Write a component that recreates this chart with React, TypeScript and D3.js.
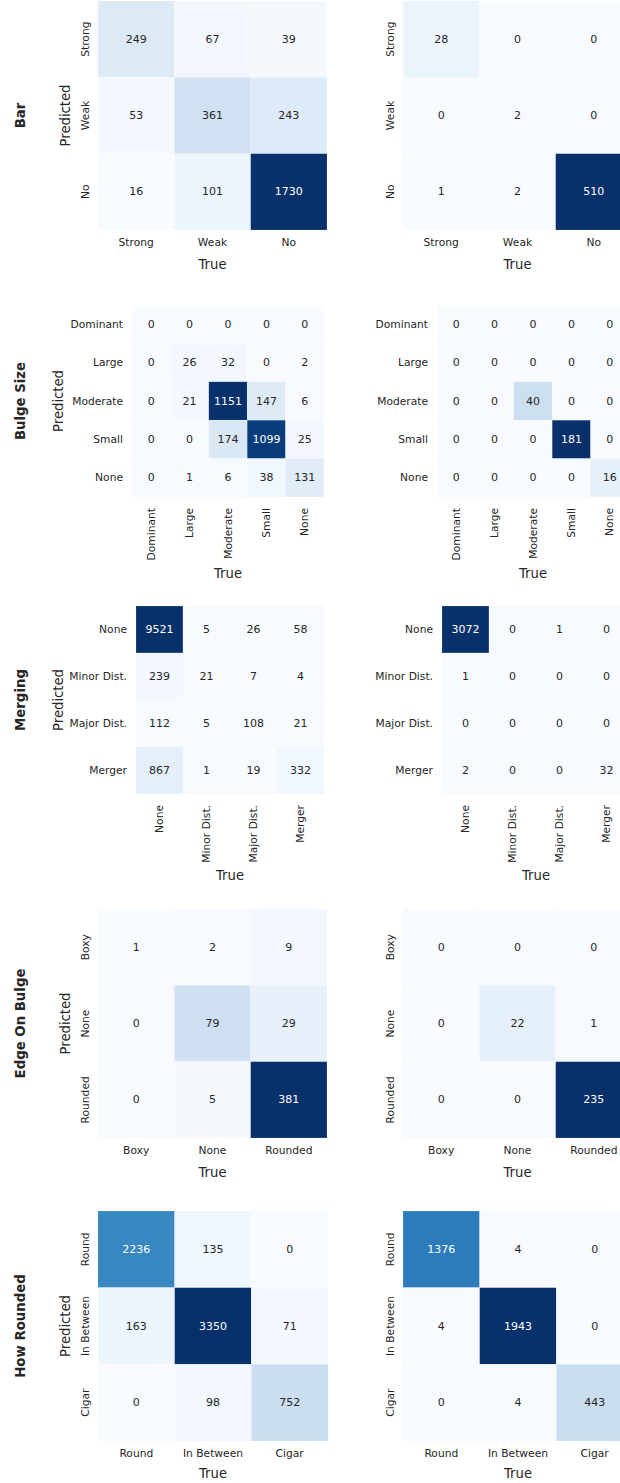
import * as d3 from "d3";

// ---------- data ----------
const barLabels = ["Strong", "Weak", "No"];
const barLeft = [
  [249, 67, 39],
  [53, 361, 243],
  [16, 101, 1730],
];
const barRight = [
  [28, 0, 0],
  [0, 2, 0],
  [1, 2, 510],
];

const bulgeLabels = ["Dominant", "Large", "Moderate", "Small", "None"];
const bulgeLeft = [
  [0, 0, 0, 0, 0],
  [0, 26, 32, 0, 2],
  [0, 21, 1151, 147, 6],
  [0, 0, 174, 1099, 25],
  [0, 1, 6, 38, 131],
];
const bulgeRight = [
  [0, 0, 0, 0, 0],
  [0, 0, 0, 0, 0],
  [0, 0, 40, 0, 0],
  [0, 0, 0, 181, 0],
  [0, 0, 0, 0, 16],
];

const mergingLabels = ["None", "Minor Dist.", "Major Dist.", "Merger"];
const mergingLeft = [
  [9521, 5, 26, 58],
  [239, 21, 7, 4],
  [112, 5, 108, 21],
  [867, 1, 19, 332],
];
const mergingRight = [
  [3072, 0, 1, 0],
  [1, 0, 0, 0],
  [0, 0, 0, 0],
  [2, 0, 0, 32],
];

const edgeLabels = ["Boxy", "None", "Rounded"];
const edgeLeft = [
  [1, 2, 9],
  [0, 79, 29],
  [0, 5, 381],
];
const edgeRight = [
  [0, 0, 0],
  [0, 22, 1],
  [0, 0, 235],
];

const roundLabels = ["Round", "In Between", "Cigar"];
const roundLeft = [
  [2236, 135, 0],
  [163, 3350, 71],
  [0, 98, 752],
];
const roundRight = [
  [1376, 4, 0],
  [4, 1943, 0],
  [0, 4, 443],
];

const rowTitles = ["Bar", "Bulge Size", "Merging", "Edge On Bulge", "How Rounded"];

// matplotlib "Blues" stops
const BLUES = [
  "#f7fbff", "#deebf7", "#c6dbef", "#9ecae1", "#6baed6",
  "#4292c6", "#2171b5", "#08519c", "#08306b",
];

const FONT = "DejaVu Sans, Verdana, sans-serif";
const INK = "#262626";

// layout per row (pixels)
type RowLayout = {
  top: number;
  size: number;
  leftX: number;
  rightX: number;
  rotated: boolean; // many classes: horizontal y ticks, vertical x ticks
  trueY: number;
  predX: number;
};

const layouts: RowLayout[] = [
  { top: 1, size: 229, leftX: 98, rightX: 403, rotated: false, trueY: 264, predX: 65 },
  { top: 305, size: 192, leftX: 132, rightX: 437, rotated: true, trueY: 573, predX: 58 },
  { top: 606, size: 188, leftX: 136, rightX: 442, rotated: true, trueY: 875, predX: 58 },
  { top: 909, size: 229, leftX: 98, rightX: 403, rotated: false, trueY: 1172, predX: 65 },
  { top: 1211, size: 230, leftX: 98, rightX: 403, rotated: false, trueY: 1473, predX: 65 },
];

const rows = [
  { labels: barLabels, left: barLeft, right: barRight },
  { labels: bulgeLabels, left: bulgeLeft, right: bulgeRight },
  { labels: mergingLabels, left: mergingLeft, right: mergingRight },
  { labels: edgeLabels, left: edgeLeft, right: edgeRight },
  { labels: roundLabels, left: roundLeft, right: roundRight },
];

function luminance(c: string) {
  const rgb = d3.rgb(c);
  const lin = (v: number) => {
    const s = v / 255;
    return s <= 0.03928 ? s / 12.92 : Math.pow((s + 0.055) / 1.055, 2.4);
  };
  return 0.2126 * lin(rgb.r) + 0.7152 * lin(rgb.g) + 0.0722 * lin(rgb.b);
}

function Matrix({
  data,
  labels,
  x0,
  lay,
}: {
  data: number[][];
  labels: string[];
  x0: number;
  lay: RowLayout;
}) {
  const flat = data.flat();
  const vmin = d3.min(flat)!;
  const vmax = d3.max(flat)!;
  const color = d3
    .scaleLinear<string>()
    .domain(BLUES.map((_, i) => vmin + ((vmax - vmin) * i) / (BLUES.length - 1)))
    .range(BLUES)
    .interpolate(d3.interpolateRgb)
    .clamp(true);

  const x = d3.scaleBand<number>().domain(d3.range(labels.length)).range([x0, x0 + lay.size]);
  const y = d3.scaleBand<number>().domain(d3.range(labels.length)).range([lay.top, lay.top + lay.size]);
  const bottom = lay.top + lay.size;

  return (
    <g>
      {data.map((row, i) =>
        row.map((v, j) => {
          const fill = color(v);
          return (
            <g key={`${i}-${j}`}>
              <rect
                x={x(j)}
                y={y(i)}
                width={x.bandwidth()}
                height={y.bandwidth()}
                fill={fill}
                stroke="#ffffff"
                strokeOpacity={0.25}
                strokeWidth={0.6}
              />
              <text
                x={x(j)! + x.bandwidth() / 2}
                y={y(i)! + y.bandwidth() / 2}
                textAnchor="middle"
                dominantBaseline="central"
                fontSize={11}
                fill={luminance(fill) > 0.408 ? INK : "#ffffff"}
              >
                {v}
              </text>
            </g>
          );
        }),
      )}
      {/* y tick labels */}
      {labels.map((l, i) =>
        lay.rotated ? (
          <text
            key={`y-${l}`}
            x={x0 - 9}
            y={y(i)! + y.bandwidth() / 2}
            textAnchor="end"
            dominantBaseline="central"
            fontSize={10.7}
            fill={INK}
          >
            {l}
          </text>
        ) : (
          <text
            key={`y-${l}`}
            transform={`translate(${x0 - 13},${y(i)! + y.bandwidth() / 2}) rotate(-90)`}
            textAnchor="middle"
            dominantBaseline="central"
            fontSize={10.7}
            fill={INK}
          >
            {l}
          </text>
        ),
      )}
      {/* x tick labels */}
      {labels.map((l, j) =>
        lay.rotated ? (
          <text
            key={`x-${l}`}
            transform={`translate(${x(j)! + x.bandwidth() / 2},${bottom + 11}) rotate(-90)`}
            textAnchor="end"
            dominantBaseline="central"
            fontSize={10.7}
            fill={INK}
          >
            {l}
          </text>
        ) : (
          <text
            key={`x-${l}`}
            x={x(j)! + x.bandwidth() / 2}
            y={bottom + 12.5}
            textAnchor="middle"
            dominantBaseline="central"
            fontSize={10.7}
            fill={INK}
          >
            {l}
          </text>
        ),
      )}
      <text
        x={x0 + lay.size / 2}
        y={lay.trueY}
        textAnchor="middle"
        dominantBaseline="central"
        fontSize={13.2}
        fill={INK}
      >
        True
      </text>
    </g>
  );
}

export default function App() {
  const width = 620;
  const height = 1483;
  return (
    <svg
      width={width}
      height={height}
      style={{ position: "absolute", left: 0, top: 0, background: "#ffffff" }}
      fontFamily={FONT}
    >
      <rect width={width} height={height} fill="#ffffff" />
      {rows.map((r, k) => {
        const lay = layouts[k];
        const cy = lay.top + lay.size / 2;
        return (
          <g key={rowTitles[k]}>
            <Matrix data={r.left} labels={r.labels} x0={lay.leftX} lay={lay} />
            <Matrix data={r.right} labels={r.labels} x0={lay.rightX} lay={lay} />
            <text
              transform={`translate(${lay.predX},${cy}) rotate(-90)`}
              textAnchor="middle"
              dominantBaseline="central"
              fontSize={13.2}
              fill={INK}
            >
              Predicted
            </text>
            <text
              transform={`translate(20,${cy}) rotate(-90)`}
              textAnchor="middle"
              dominantBaseline="central"
              fontSize={13.3}
              fontWeight="bold"
              fill={INK}
            >
              {rowTitles[k]}
            </text>
          </g>
        );
      })}
    </svg>
  );
}
